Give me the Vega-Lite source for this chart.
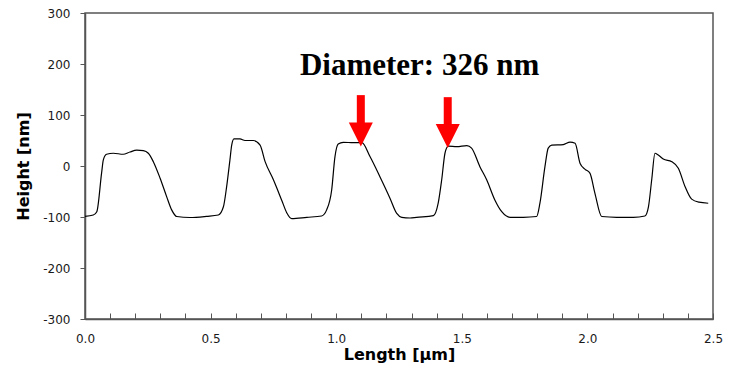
{
  "$schema": "https://vega.github.io/schema/vega-lite/v6.json",
  "width": 628,
  "height": 306,
  "autosize": {"type": "none"},
  "padding": {"left": 85, "top": 13, "right": 17, "bottom": 51},
  "background": "white",
  "config": {
    "view": {"stroke": "#555555", "strokeWidth": 1.5},
    "axis": {
      "grid": false,
      "domainColor": "#555555",
      "domainWidth": 1.5,
      "tickColor": "#555555",
      "tickWidth": 1,
      "labelFont": "DejaVu Sans",
      "labelFontSize": 12,
      "labelColor": "#1a1a1a",
      "labelFlush": false,
      "labelBound": false,
      "titleFont": "DejaVu Sans",
      "titleFontSize": 16,
      "titleFontWeight": "bold",
      "titleColor": "#000000"
    }
  },
  "datasets": {
    "profile": [
      {"x": 0.000, "y": -98.6},
      {"x": 0.033, "y": -96},
      {"x": 0.047, "y": -89.6},
      {"x": 0.066, "y": -14},
      {"x": 0.073, "y": 12},
      {"x": 0.086, "y": 23},
      {"x": 0.113, "y": 25},
      {"x": 0.152, "y": 23},
      {"x": 0.179, "y": 27.5},
      {"x": 0.206, "y": 31},
      {"x": 0.232, "y": 30},
      {"x": 0.252, "y": 25},
      {"x": 0.272, "y": 8.5},
      {"x": 0.299, "y": -24},
      {"x": 0.325, "y": -60},
      {"x": 0.345, "y": -86},
      {"x": 0.365, "y": -99},
      {"x": 0.418, "y": -101},
      {"x": 0.484, "y": -98.7},
      {"x": 0.531, "y": -96},
      {"x": 0.551, "y": -80},
      {"x": 0.564, "y": -40},
      {"x": 0.577, "y": 12},
      {"x": 0.584, "y": 41},
      {"x": 0.593, "y": 53},
      {"x": 0.617, "y": 53},
      {"x": 0.637, "y": 50},
      {"x": 0.670, "y": 50},
      {"x": 0.697, "y": 41},
      {"x": 0.717, "y": 8.5},
      {"x": 0.750, "y": -27},
      {"x": 0.783, "y": -67},
      {"x": 0.803, "y": -91.5},
      {"x": 0.823, "y": -103},
      {"x": 0.883, "y": -100.6},
      {"x": 0.942, "y": -98},
      {"x": 0.962, "y": -86},
      {"x": 0.982, "y": -47},
      {"x": 0.995, "y": 18},
      {"x": 1.008, "y": 43},
      {"x": 1.028, "y": 46.5},
      {"x": 1.068, "y": 45.7},
      {"x": 1.102, "y": 45.7},
      {"x": 1.135, "y": 18},
      {"x": 1.174, "y": -21},
      {"x": 1.214, "y": -63},
      {"x": 1.241, "y": -93},
      {"x": 1.261, "y": -100.6},
      {"x": 1.294, "y": -102},
      {"x": 1.320, "y": -100.6},
      {"x": 1.387, "y": -97.4},
      {"x": 1.406, "y": -73},
      {"x": 1.420, "y": -27},
      {"x": 1.433, "y": 25},
      {"x": 1.446, "y": 39},
      {"x": 1.480, "y": 38},
      {"x": 1.520, "y": 40},
      {"x": 1.539, "y": 35},
      {"x": 1.572, "y": -1.3},
      {"x": 1.599, "y": -27},
      {"x": 1.632, "y": -67},
      {"x": 1.659, "y": -89.6},
      {"x": 1.692, "y": -100.6},
      {"x": 1.745, "y": -100.6},
      {"x": 1.798, "y": -99},
      {"x": 1.811, "y": -73},
      {"x": 1.831, "y": -1.3},
      {"x": 1.844, "y": 35},
      {"x": 1.858, "y": 41},
      {"x": 1.904, "y": 42},
      {"x": 1.931, "y": 47},
      {"x": 1.951, "y": 44.5},
      {"x": 1.971, "y": 5},
      {"x": 1.991, "y": -6.5},
      {"x": 2.010, "y": -14},
      {"x": 2.030, "y": -53.6},
      {"x": 2.057, "y": -99},
      {"x": 2.117, "y": -100.6},
      {"x": 2.183, "y": -100.6},
      {"x": 2.229, "y": -98},
      {"x": 2.243, "y": -80},
      {"x": 2.256, "y": -27},
      {"x": 2.269, "y": 25},
      {"x": 2.282, "y": 21.6},
      {"x": 2.302, "y": 13.7},
      {"x": 2.336, "y": 8.5},
      {"x": 2.362, "y": -4.5},
      {"x": 2.389, "y": -40.6},
      {"x": 2.415, "y": -65},
      {"x": 2.444, "y": -71},
      {"x": 2.481, "y": -73}
    ],
    "shafts": [
      {"x": 1.098, "y": 139, "y2": 84},
      {"x": 1.444, "y": 135, "y2": 80}
    ],
    "heads": [
      {"x": 1.098, "y": 62},
      {"x": 1.444, "y": 59}
    ],
    "label": [
      {"x": 1.332, "y": 178, "text": "Diameter: 326 nm"}
    ]
  },
  "encoding": {
    "x": {
      "field": "x",
      "type": "quantitative",
      "scale": {"domain": [0, 2.5], "nice": false, "zero": false},
      "axis": {
        "title": "Length [µm]",
        "values": [0, 0.1, 0.2, 0.3, 0.4, 0.5, 0.6, 0.7, 0.8, 0.9, 1.0, 1.1, 1.2, 1.3, 1.4, 1.5, 1.6, 1.7, 1.8, 1.9, 2.0, 2.1, 2.2, 2.3, 2.4, 2.5],
        "labelExpr": "round(datum.value * 10) % 5 == 0 ? format(datum.value, '.1f') : ''",
        "labelOverlap": false,
        "tickSize": -6,
        "labelPadding": 20,
        "titlePadding": 2
      }
    },
    "y": {
      "field": "y",
      "type": "quantitative",
      "scale": {"domain": [-300, 300], "nice": false, "zero": false},
      "axis": {
        "title": "Height [nm]",
        "values": [-300, -200, -100, 0, 100, 200, 300],
        "labelExpr": "'' + datum.value",
        "tickSize": 5,
        "labelPadding": 10,
        "titlePadding": 11
      }
    }
  },
  "layer": [
    {
      "data": {"name": "profile"},
      "mark": {"type": "line", "color": "#000000", "strokeWidth": 1.2, "interpolate": "monotone"}
    },
    {
      "data": {"name": "shafts"},
      "mark": {"type": "rule", "color": "#ff0000", "strokeWidth": 8, "strokeCap": "butt"},
      "encoding": {
        "y2": {"field": "y2"}
      }
    },
    {
      "data": {"name": "heads"},
      "mark": {"type": "point", "shape": "M-1,-1L1,-1L0,1Z", "filled": true, "color": "#ff0000", "opacity": 1, "size": 576}
    },
    {
      "data": {"name": "label"},
      "mark": {"type": "text", "font": "Liberation Serif", "fontWeight": "bold", "fontSize": 31, "align": "center", "baseline": "alphabetic", "color": "#000000"},
      "encoding": {
        "text": {"field": "text"}
      }
    }
  ]
}
